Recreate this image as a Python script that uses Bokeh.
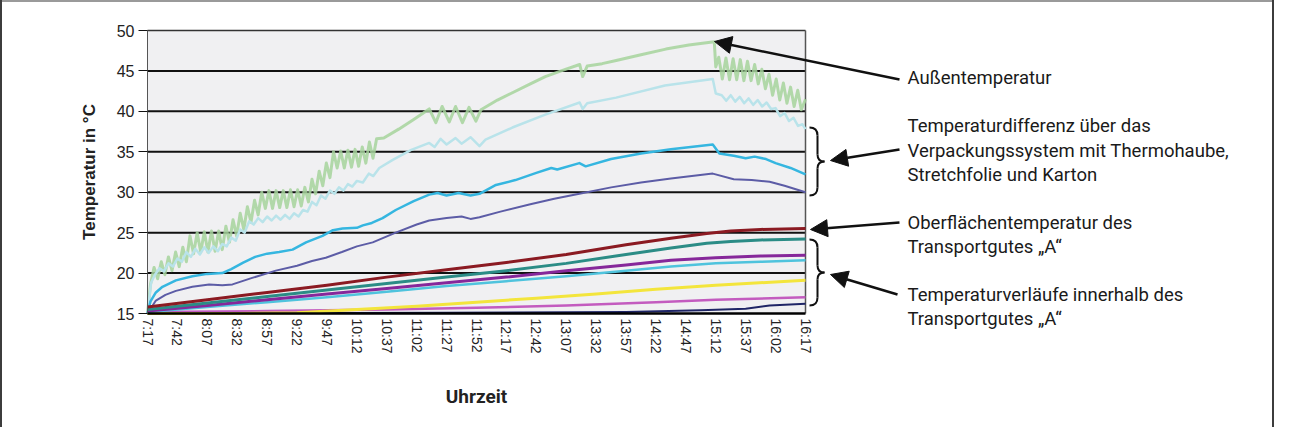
import math
from bokeh.plotting import figure
from bokeh.models import Range1d, FixedTicker, Label, Arrow, NormalHead
from bokeh.embed import file_html
from bokeh.resources import INLINE

# ---------------- data ----------------
time_labels = ["7:17", "7:42", "8:07", "8:32", "8:57", "9:22", "9:47", "10:12", "10:37",
               "11:02", "11:27", "11:52", "12:17", "12:42", "13:07", "13:32", "13:57",
               "14:22", "14:47", "15:12", "15:37", "16:02", "16:17"]
y_ticks = [15, 20, 25, 30, 35, 40, 45, 50]
grid_values = [20, 25, 30, 35, 40, 45]

# x = position on the time axis (label index), y = temperature in °C
aussen = [(0.00, 15.0), (0.10, 18.6), (0.22, 20.7), (0.34, 19.3), (0.46, 21.4), (0.58, 19.8), (0.70, 22.0),
          (0.82, 20.3), (0.94, 22.6), (1.06, 20.8), (1.18, 23.2), (1.30, 21.4), (1.42, 24.6), (1.54, 22.4),
          (1.66, 25.0), (1.78, 22.6), (1.90, 25.1), (2.02, 22.6), (2.14, 25.2), (2.26, 22.7), (2.38, 25.2),
          (2.50, 22.9), (2.62, 25.8), (2.74, 23.8), (2.86, 26.6), (2.98, 24.6), (3.10, 27.4), (3.22, 25.4),
          (3.34, 28.2), (3.46, 26.3), (3.58, 29.0), (3.70, 27.2), (3.82, 30.0), (3.94, 28.0), (4.06, 30.2),
          (4.18, 28.0), (4.30, 30.2), (4.42, 28.1), (4.54, 30.2), (4.66, 28.1), (4.78, 30.3), (4.90, 28.2),
          (5.02, 30.3), (5.14, 28.3), (5.26, 30.6), (5.38, 28.8), (5.50, 31.6), (5.62, 29.8), (5.74, 32.6),
          (5.86, 30.8), (5.98, 33.6), (6.10, 31.8), (6.22, 35.0), (6.34, 33.0), (6.46, 35.1), (6.58, 33.0),
          (6.70, 35.2), (6.82, 33.1), (6.94, 35.3), (7.06, 33.2), (7.18, 35.6), (7.30, 33.6), (7.42, 36.2),
          (7.54, 34.2), (7.66, 36.6), (7.90, 36.7), (8.40, 37.8), (8.90, 39.0), (9.42, 40.3), (9.64, 38.6),
          (9.85, 40.6), (10.09, 38.7), (10.30, 40.6), (10.53, 38.6), (10.75, 40.5), (10.98, 38.8),
          (11.15, 40.2), (11.70, 41.4), (12.20, 42.3), (12.80, 43.4), (13.30, 44.3), (13.90, 45.1),
          (14.45, 45.8), (14.55, 44.3), (14.70, 45.6), (15.20, 45.9), (15.67, 46.3), (16.50, 47.0),
          (17.33, 47.7), (18.10, 48.2), (18.95, 48.6), (19.00, 45.5), (19.10, 46.7), (19.22, 44.0),
          (19.34, 46.6), (19.46, 43.9), (19.58, 46.5), (19.70, 43.9), (19.82, 46.4), (19.94, 43.8),
          (20.06, 46.2), (20.18, 43.8), (20.30, 45.8), (20.42, 43.4), (20.54, 45.2), (20.66, 42.8),
          (20.78, 44.6), (20.90, 42.0), (21.02, 44.0), (21.14, 41.4), (21.26, 43.5), (21.38, 41.0),
          (21.50, 43.0), (21.62, 40.6), (21.74, 42.6), (21.86, 40.2), (22.00, 41.5)]

haube = [(0.00, 15.0), (0.12, 18.8), (0.25, 19.8), (0.40, 20.6), (0.55, 20.2), (0.70, 21.2), (0.85, 20.8),
         (1.00, 21.8), (1.15, 21.4), (1.30, 22.6), (1.45, 22.0), (1.60, 23.0), (1.75, 22.3), (1.90, 23.2),
         (2.05, 22.5), (2.20, 23.3), (2.35, 22.7), (2.50, 23.6), (2.65, 23.3), (2.80, 24.4), (2.95, 24.0),
         (3.10, 25.4), (3.25, 25.0), (3.40, 26.4), (3.55, 26.0), (3.70, 26.8), (3.85, 26.3), (4.00, 27.0),
         (4.15, 26.5), (4.30, 27.1), (4.45, 26.6), (4.60, 27.2), (4.75, 26.7), (4.90, 27.4), (5.05, 27.0),
         (5.20, 27.8), (5.35, 27.6), (5.50, 28.8), (5.65, 28.4), (5.80, 29.6), (5.95, 29.2), (6.10, 30.2),
         (6.25, 29.8), (6.40, 30.6), (6.55, 30.2), (6.70, 31.0), (6.85, 30.7), (7.00, 31.4), (7.20, 31.2),
         (7.40, 32.3), (7.55, 32.0), (7.75, 33.0), (8.20, 34.0), (8.80, 35.2), (9.42, 36.1), (9.60, 35.6),
         (9.80, 36.6), (10.00, 35.9), (10.30, 36.7), (10.50, 36.0), (10.80, 36.8), (11.10, 35.7),
         (11.30, 36.5), (12.20, 38.0), (13.30, 39.6), (14.45, 41.1), (14.55, 40.3), (14.70, 41.0),
         (15.67, 41.7), (17.30, 43.2), (18.90, 44.0), (19.00, 42.2), (19.20, 42.0), (19.35, 41.3),
         (19.50, 42.0), (19.65, 41.2), (19.80, 41.8), (19.95, 41.0), (20.10, 41.6), (20.25, 40.8),
         (20.40, 41.4), (20.55, 40.6), (20.70, 41.1), (20.85, 40.3), (21.00, 40.4), (21.15, 39.4),
         (21.30, 39.8), (21.45, 38.8), (21.60, 39.2), (21.75, 38.2), (21.90, 38.4), (22.00, 37.8)]

folie = [(0.00, 15.0), (0.10, 16.5), (0.28, 17.6), (0.50, 18.3), (0.95, 19.1), (1.50, 19.6), (2.00, 19.9),
         (2.50, 20.0), (2.80, 20.5), (3.20, 21.3), (3.60, 22.0), (4.00, 22.4), (4.40, 22.6), (4.85, 22.9),
         (5.30, 23.8), (5.85, 24.6), (6.20, 25.3), (6.52, 25.5), (7.00, 25.6), (7.20, 25.9), (7.50, 26.2),
         (7.86, 26.8), (8.30, 27.8), (8.90, 28.9), (9.42, 29.7), (9.70, 29.9), (10.00, 29.6), (10.40, 29.9),
         (10.80, 29.6), (11.10, 29.8), (11.65, 30.9), (12.30, 31.5), (13.00, 32.4), (13.50, 33.0),
         (13.70, 32.8), (14.44, 33.6), (14.65, 33.2), (15.50, 34.1), (16.50, 34.8), (17.50, 35.3),
         (18.90, 35.9), (19.12, 34.8), (19.60, 34.5), (20.00, 34.2), (20.30, 34.4), (20.68, 34.1),
         (21.00, 33.6), (21.50, 33.0), (22.00, 32.2)]

karton = [(0.00, 15.0), (0.28, 16.6), (0.60, 17.3), (0.95, 17.8), (1.50, 18.3), (2.06, 18.6), (2.50, 18.5),
          (2.84, 18.6), (3.50, 19.4), (4.29, 20.3), (5.00, 20.9), (5.50, 21.5), (5.96, 21.9), (6.50, 22.6),
          (7.00, 23.3), (7.53, 23.8), (8.30, 25.0), (9.00, 26.0), (9.42, 26.5), (10.00, 26.8), (10.50, 27.0),
          (10.80, 26.7), (11.10, 26.9), (11.80, 27.6), (12.80, 28.5), (13.60, 29.2), (14.44, 29.8),
          (15.50, 30.6), (16.50, 31.2), (17.50, 31.7), (18.20, 32.0), (18.90, 32.3), (19.60, 31.6),
          (20.20, 31.5), (20.80, 31.3), (21.30, 30.8), (22.00, 30.0)]

oberflaeche = [(0, 15.8), (2, 16.7), (4, 17.6), (6, 18.5), (8, 19.5), (10, 20.4), (12, 21.3), (14, 22.3),
               (16, 23.5), (17.5, 24.3), (18.7, 24.9), (19.5, 25.2), (20.5, 25.4), (22, 25.5)]
innen_teal = [(0, 15.5), (2, 16.3), (4, 17.1), (6, 17.9), (8, 18.7), (10, 19.5), (12, 20.3), (14, 21.2),
              (16, 22.3), (17.5, 23.1), (18.7, 23.7), (19.5, 23.9), (20.5, 24.1), (22, 24.2)]
innen_violett = [(0, 15.3), (2, 16.0), (4, 16.7), (6, 17.4), (8, 18.1), (10, 18.8), (12, 19.5), (14, 20.3),
                 (16, 21.0), (17.5, 21.6), (19, 21.9), (20.5, 22.1), (22, 22.2)]
innen_hellblau = [(0, 15.2), (2, 15.8), (4, 16.4), (6, 17.0), (8, 17.7), (10, 18.4), (12, 19.0), (14, 19.6),
                  (16, 20.3), (17.5, 20.8), (19, 21.2), (20.5, 21.4), (22, 21.6)]
innen_gelb = [(0, 15.0), (3, 15.0), (5, 15.1), (7, 15.5), (9, 15.9), (11, 16.4), (13, 16.9), (15, 17.4),
              (17, 18.0), (19, 18.5), (22, 19.1)]
innen_rosa = [(0, 15.2), (4, 15.3), (8, 15.5), (11, 15.7), (14, 16.0), (17, 16.4), (19, 16.7), (22, 17.0)]
innen_navy = [(0, 15.0), (10, 15.1), (16, 15.2), (18.5, 15.4), (20, 15.6), (20.8, 16.0), (22, 16.2)]

series = [
    (aussen, "#a6d49c", 3.0, 0.85),
    (haube, "#b9e3ea", 2.5, 1.0),
    (folie, "#35b6e0", 2.5, 1.0),
    (karton, "#5c5ca6", 2.0, 1.0),
    (innen_navy, "#1f2566", 2.0, 1.0),
    (innen_rosa, "#c35bbf", 2.5, 1.0),
    (innen_gelb, "#f3e53c", 3.0, 1.0),
    (innen_hellblau, "#4fc3dd", 2.5, 1.0),
    (innen_violett, "#86279a", 3.0, 1.0),
    (innen_teal, "#2b8c86", 3.0, 1.0),
    (oberflaeche, "#8b1a22", 3.0, 1.0),
]

# ---------------- layout ----------------
W, H = 1274, 427
OFF = 8                        # page margin
M = 5                          # frame inset: axes and notes are all drawn inside the frame
X0, X22 = 147, 805             # canvas x of the first and last time label
Y50, Y15 = 30, 313             # canvas y of 50 °C and 15 °C
N = len(time_labels) - 1       # 22 intervals on the time axis
PXI = (X22 - X0) / float(N)    # pixels per interval
PPD = (Y15 - Y50) / 35.0       # pixels per degree
X_MIN = -(X0 - M) / PXI
X_MAX = (W - M - X0) / PXI
Y_MIN = 15 - (H - M - Y15) / PPD
Y_MAX = 50 + (Y50 - M) / PPD

def X(px):
    return (px - OFF - X0) / PXI

def Y(py):
    return 50 - (py - OFF - Y50) / PPD

p = figure(width=W, height=H, output_backend="svg", toolbar_location=None,
           x_range=Range1d(X_MIN, X_MAX), y_range=Range1d(Y_MIN, Y_MAX),
           min_border_left=M, min_border_right=M, min_border_top=M, min_border_bottom=M)
p.outline_line_color = None
p.background_fill_alpha = 0
p.border_fill_alpha = 0
p.styles = {"background-color": "white",
            "box-shadow": "inset 2px 0 0 #3c3c3c, inset -2px 0 0 #3c3c3c, inset 0 2px 0 #9a9a9a"}
p.xgrid.visible = False
p.ygrid.visible = False

# plot area
p.quad(left=0, right=N, bottom=y_ticks[0], top=y_ticks[-1], fill_color="#f0f0f2", line_color=None)
p.segment(x0=0, x1=N, y0=grid_values, y1=grid_values, line_color="#111111", line_width=2)
p.segment(x0=[0], x1=[N], y0=[y_ticks[-1]], y1=[y_ticks[-1]], line_color="#333333", line_width=1.5)
p.segment(x0=[N], x1=[N], y0=[y_ticks[0]], y1=[y_ticks[-1]], line_color="#555555", line_width=1.5)

for data, color, lw, alpha in series:
    xs = [d[0] for d in data]
    ys = [d[1] for d in data]
    p.line(xs, ys, line_color=color, line_width=lw, line_alpha=alpha, line_join="round")

# axes
p.yaxis.fixed_location = 0
p.yaxis.bounds = (y_ticks[0], y_ticks[-1])
p.yaxis.ticker = FixedTicker(ticks=y_ticks)
p.yaxis.axis_line_color = "#555555"
p.yaxis.axis_line_width = 1
p.yaxis.major_tick_line_color = "#111111"
p.yaxis.major_tick_out = 9
p.yaxis.major_tick_in = 0
p.yaxis.minor_tick_line_color = None
p.yaxis.major_label_text_font = "Liberation Sans"
p.yaxis.major_label_text_font_size = "16px"
p.yaxis.major_label_text_color = "#222222"
p.yaxis.major_label_standoff = 4

p.xaxis.fixed_location = y_ticks[0]
p.xaxis.bounds = (0, N)
p.xaxis.ticker = FixedTicker(ticks=list(range(len(time_labels))))
p.xaxis.major_label_overrides = {i: t for i, t in enumerate(time_labels)}
p.xaxis.major_label_orientation = "vertical"
p.xaxis.major_tick_out = 0
p.xaxis.major_tick_in = 0
p.xaxis.minor_tick_line_color = None
p.xaxis.axis_line_color = "#000000"
p.xaxis.axis_line_width = 2.5
p.xaxis.major_label_text_font = "Liberation Sans"
p.xaxis.major_label_text_font_size = "14px"
p.xaxis.major_label_text_color = "#222222"
p.xaxis.major_label_standoff = 5
p.xaxis.axis_label = "Uhrzeit"
p.xaxis.axis_label_text_font = "Roboto"
p.xaxis.axis_label_text_font_style = "bold"
p.xaxis.axis_label_text_font_size = "19px"
p.xaxis.axis_label_text_color = "#222222"
p.xaxis.axis_label_standoff = 28

# y axis title (centred on the 15..50 span)
p.add_layout(Label(x=X(97), y=(y_ticks[0] + y_ticks[-1]) / 2.0, text="Temperatur in °C",
                   angle=math.pi / 2, text_align="center", text_baseline="middle",
                   text_font="Liberation Sans", text_font_style="bold", text_font_size="17px",
                   text_color="#222222"))

# braces
def brace(top, bottom, x_left=817, x_mid=825, x_tip=832):
    mid = (top + bottom) / 2.0
    p.bezier(x0=[X(x_left), X(x_mid), X(x_tip), X(x_mid)],
             y0=[Y(top), Y(mid - 7), Y(mid), Y(bottom - 8)],
             x1=[X(x_mid), X(x_tip), X(x_mid), X(x_left)],
             y1=[Y(top + 8), Y(mid), Y(mid + 7), Y(bottom)],
             cx0=[X(x_left + 6), X(x_mid), X(x_tip - 4), X(x_mid)],
             cy0=[Y(top), Y(mid - 2), Y(mid), Y(bottom - 3)],
             cx1=[X(x_mid), X(x_tip - 4), X(x_mid), X(x_left + 6)],
             cy1=[Y(top + 3), Y(mid), Y(mid + 2), Y(bottom)],
             line_color="#111111", line_width=2)
    p.segment(x0=[X(x_mid), X(x_mid)], x1=[X(x_mid), X(x_mid)],
              y0=[Y(top + 8), Y(mid + 7)], y1=[Y(mid - 7), Y(bottom - 8)],
              line_color="#111111", line_width=2)

brace(135, 203)
brace(247, 313)

# arrows
arrows = [((907, 87), (722, 49)), ((907, 157), (838, 168)),
          ((907, 230), (818, 237)), ((905, 302), (838, 282))]
for (sx, sy), (ex, ey) in arrows:
    p.add_layout(Arrow(end=NormalHead(size=17, fill_color="#111111", line_color="#111111"),
                       x_start=X(sx), y_start=Y(sy), x_end=X(ex), y_end=Y(ey),
                       line_color="#111111", line_width=2.5))

# annotation texts
texts = [(85, "Außentemperatur"),
         (133, "Temperaturdifferenz über das"),
         (158, "Verpackungssystem mit Thermohaube,"),
         (182, "Stretchfolie und Karton"),
         (230, "Oberflächentemperatur des"),
         (254, "Transportgutes „A“"),
         (302, "Temperaturverläufe innerhalb des"),
         (326, "Transportgutes „A“")]
for py, t in texts:
    p.add_layout(Label(x=X(915), y=Y(py), text=t, text_baseline="middle", text_align="left",
                       text_font="Roboto", text_font_size="18.5px", text_color="#1a1a1a"))

open("out.html", "w").write(file_html(p, INLINE))
